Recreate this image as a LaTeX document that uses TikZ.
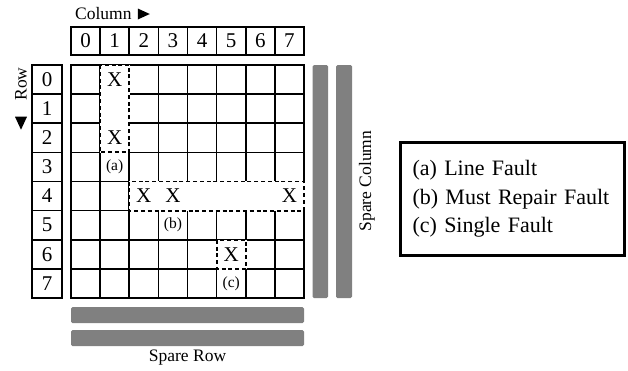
\documentclass[tikz,border=0pt]{standalone}
\usepackage{fontspec}
\setmainfont{Liberation Serif}
\usetikzlibrary{positioning}
\newcommand{\cellsz}{29.125}
\newcommand{\fsz}[2]{\fontsize{#1}{#2}\selectfont}

\begin{document}
\begin{tikzpicture}[x=1pt,y=-1pt,
	cell/.style={draw,line width=1.7pt,minimum width=\cellsz pt,minimum height=\cellsz pt,inner sep=0pt,outer sep=0pt,font=\fsz{21}{25}},
	colhead/.style={cell,minimum height=28pt},
	rowhead/.style={cell,minimum width=30pt},
	faultbox/.style={line width=1.9pt,dash pattern=on 4pt off 2.8pt,preaction={draw=white,solid,fill=white}},
	xmark/.style={font=\fsz{21}{25},inner sep=0pt},
	tag/.style={font=\fsz{15.5}{18},inner sep=0pt},
	spare/.style={fill=black!50,rounded corners=1.5pt},
	label/.style={font=\fsz{17.5}{21},inner sep=0pt}]
	\useasboundingbox (0,0) rectangle (628,370);
	\foreach \r in {0,...,7}
		\foreach \c in {0,...,7}
			\node[cell] (c\r\c) at ({71+\cellsz*(\c+0.5)},{65+\cellsz*(\r+0.5)}) {};
	\foreach \c in {0,...,7}
		\node[colhead] (col\c) at ({71+\cellsz*(\c+0.5)},41) {\c};
	\foreach \r in {0,...,7}
		\node[rowhead] (row\r) at (47,{65+\cellsz*(\r+0.5)}) {\r};
	\draw[faultbox] (c01.north west) rectangle (c21.south east);
	\draw[faultbox] (c42.north west) rectangle (c47.south east);
	\draw[faultbox] (c65.north west) rectangle (c65.south east);
	\foreach \cl in {01,21,42,43,47,65}
		\node[xmark] (x\cl) at (c\cl) {X};
	\node[tag] (ta) at (c31) {(a)};
	\node[tag] (tb) at (c53) {(b)};
	\node[tag] (tc) at (c75) {(c)};
	\fill[spare] ([xshift=8.5pt]c07.north east) rectangle ([xshift=24pt]c77.south east);
	\fill[spare] ([xshift=32pt]c07.north east) rectangle ([xshift=48pt]c77.south east);
	\fill[spare] ([yshift=-9pt]c70.south west) rectangle ([yshift=-25pt]c77.south east);
	\fill[spare] ([yshift=-32pt]c70.south west) rectangle ([yshift=-48pt]c77.south east);
	\node[label] (sparerow) at (187.5,358) {Spare Row};
	\node[label,rotate=90] (sparecol) at (367,181) {Spare Column};
	\node[label,anchor=west] (collabel) at (75,14) {Column};
	\fill ([xshift=6pt]collabel.east) -- ++(0,-5.5) -- ++(12,5.5) -- ++(-12,5.5) -- cycle;
	\node[label,rotate=90] (rowlabel) at (21,84) {Row};
	\fill (rowlabel.west) ++(0,16) -- ++(-6,0) -- ++(6,13) -- ++(6,-13) -- cycle;
	\node[draw,line width=2.4pt,align=left,font=\fsz{22}{28.5},text width=200pt,inner xsep=12pt,minimum height=113pt] (legend) at (512.5,199) {(a) Line Fault\\(b) Must Repair Fault\\(c) Single Fault};
\end{tikzpicture}
\end{document}
